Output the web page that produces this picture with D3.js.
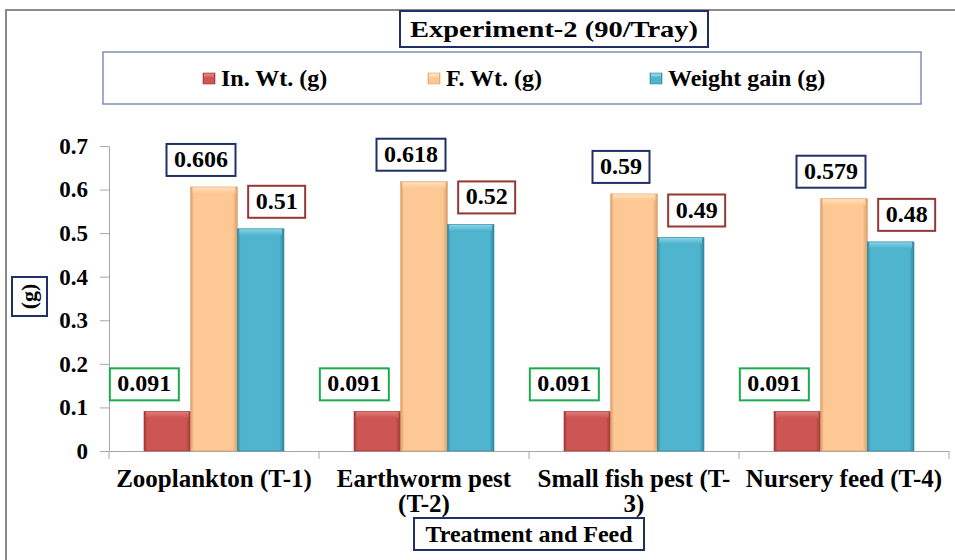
<!DOCTYPE html>
<html>
<head>
<meta charset="utf-8">
<script src="https://cdn.jsdelivr.net/npm/d3@7"></script>
<style>
  html, body { margin: 0; padding: 0; background: #fff; }
  svg { display: block; }
</style>
</head>
<body>
<div id="chart"></div>
<script>
// ---------------- data ----------------
const categories = ["Zooplankton (T-1)", "Earthworm pest (T-2)", "Small fish pest (T-3)", "Nursery feed (T-4)"];
const seriesNames = ["In. Wt. (g)", "F. Wt. (g)", "Weight gain (g)"];
const initialWeight = [0.091, 0.091, 0.091, 0.091];
const finalWeight = [0.606, 0.618, 0.59, 0.579];
const weightGain = [0.51, 0.52, 0.49, 0.48];
const yTickValues = [0, 0.1, 0.2, 0.3, 0.4, 0.5, 0.6, 0.7];
const chartTitle = "Experiment-2 (90/Tray)";
const xTitle = "Treatment and Feed";
const yTitle = "(g)";

// ---------------- styles ----------------
const FONT = '"Liberation Serif"';
const W = 955, H = 560;
const plot = { left: 109, right: 949, top: 146, bottom: 451 };
const seriesValues = [initialWeight, finalWeight, weightGain];
const colors = [
  { main: "#cd5553", light: "#e07b79", dark: "#9e3735" },
  { main: "#fdc893", light: "#ffe0bd", dark: "#d9a06a" },
  { main: "#4fb4ce", light: "#86d3e6", dark: "#2f879f" }
];
const labelBorder = ["#1faa50", "#1f3068", "#953735"];
const labelDx = [-23, -13, 16];

const svg = d3.select("#chart").append("svg").attr("width", W).attr("height", H);
const defs = svg.append("defs");
const styleText = sel => sel.style("font-family", FONT).style("font-weight", "bold").attr("fill", "#000");

colors.forEach((c, i) => {
  const g = defs.append("linearGradient").attr("id", "hg" + i).attr("x1", "0").attr("x2", "1").attr("y1", "0").attr("y2", "0");
  g.append("stop").attr("offset", "0%").attr("stop-color", c.dark);
  g.append("stop").attr("offset", "7%").attr("stop-color", c.main);
  g.append("stop").attr("offset", "50%").attr("stop-color", c.main);
  g.append("stop").attr("offset", "90%").attr("stop-color", c.main);
  g.append("stop").attr("offset", "100%").attr("stop-color", c.dark);
  const v = defs.append("linearGradient").attr("id", "vg" + i).attr("x1", "0").attr("x2", "0").attr("y1", "0").attr("y2", "1");
  v.append("stop").attr("offset", "0%").attr("stop-color", c.light);
  v.append("stop").attr("offset", "100%").attr("stop-color", c.main);
});

// outer frame
svg.append("line").attr("x1", 5).attr("x2", W).attr("y1", 10).attr("y2", 10).attr("stroke", "#8a8a8a").attr("stroke-width", 2);
svg.append("line").attr("x1", 6).attr("x2", 6).attr("y1", 10).attr("y2", H).attr("stroke", "#8a8a8a").attr("stroke-width", 2);

// scales
const y = d3.scaleLinear().domain([0, 0.7]).range([plot.bottom, plot.top]);
const x0 = d3.scaleBand().domain(categories).range([plot.left, plot.right]).padding(0);
const x1 = d3.scaleBand().domain(seriesNames).range([35, 175]).padding(0);

// y axis
const yAxis = svg.append("g").attr("transform", `translate(${plot.left},0)`)
  .call(d3.axisLeft(y).tickValues(yTickValues).tickSize(9).tickSizeOuter(0).tickPadding(12)
    .tickFormat(d => d === 0 ? "0" : d.toFixed(1)));
yAxis.select(".domain").attr("stroke", "#a6a6a6");
yAxis.selectAll(".tick line").attr("stroke", "#a6a6a6");
yAxis.selectAll(".tick text").attr("font-size", 23).call(styleText);

// x axis (ticks at category boundaries)
const xAxis = svg.append("g").attr("transform", `translate(0,${plot.bottom})`)
  .call(d3.axisBottom(x0).tickSize(0).tickSizeOuter(0).tickFormat(""));
xAxis.select(".domain").attr("stroke", "#a6a6a6");
const bounds = categories.map(c => x0(c)).concat([x0(categories[categories.length - 1]) + x0.bandwidth()]);
svg.append("g").selectAll("line").data(bounds).join("line")
  .attr("x1", d => d).attr("x2", d => d).attr("y1", plot.bottom).attr("y2", plot.bottom + 8)
  .attr("stroke", "#a6a6a6");

// bars
const groups = svg.append("g").selectAll("g").data(categories).join("g")
  .attr("transform", d => `translate(${x0(d)},0)`);

const barData = (c, ci) => seriesNames.map((s, si) => ({ s, si, v: seriesValues[si][ci] }));

groups.each(function (c, ci) {
  const g = d3.select(this);
  const data = barData(c, ci);
  g.selectAll("rect.bar").data(data).join("rect").attr("class", "bar")
    .attr("x", d => x1(d.s)).attr("width", x1.bandwidth())
    .attr("y", d => y(d.v)).attr("height", d => y(0) - y(d.v))
    .attr("fill", d => `url(#hg${d.si})`)
    .attr("stroke", d => colors[d.si].dark).attr("stroke-width", 0.6);
  g.selectAll("rect.bevel").data(data).join("rect").attr("class", "bevel")
    .attr("x", d => x1(d.s) + 2).attr("width", x1.bandwidth() - 4)
    .attr("y", d => y(d.v) + 0.5).attr("height", 6)
    .attr("fill", d => `url(#vg${d.si})`);

  // data labels
  const lab = g.selectAll("g.lab").data(data).join("g").attr("class", "lab");
  lab.each(function (d) {
    const lg = d3.select(this);
    const cx = x1(d.s) + x1.bandwidth() / 2 + labelDx[d.si];
    const bottom = y(d.v) - 11;
    const t = lg.append("text").attr("x", cx).attr("y", bottom - 9)
      .attr("text-anchor", "middle").attr("font-size", 24).call(styleText).text(String(d.v));
    const tw = t.node().getComputedTextLength();
    const bw = tw + 15, bh = 32;
    lg.insert("rect", "text").attr("x", cx - bw / 2).attr("y", bottom - bh)
      .attr("width", bw).attr("height", bh).attr("fill", "#fff")
      .attr("stroke", labelBorder[d.si]).attr("stroke-width", 2);
  });
});

// category labels with wrapping
function wrapLabel(text, maxW, fs) {
  const pieces = text.match(/[^\s-]*-|[^\s-]+\s*/g);
  const tmp = svg.append("text").attr("font-size", fs).call(styleText);
  const measure = s => { tmp.text(s); return tmp.node().getComputedTextLength(); };
  const lines = [];
  let cur = "";
  pieces.forEach(p => {
    const cand = cur + p;
    if (cur && measure(cand.trim()) > maxW) { lines.push(cur.trim()); cur = p; }
    else cur = cand;
  });
  if (cur) lines.push(cur.trim());
  tmp.remove();
  return lines;
}
const catFs = 25;
svg.append("g").selectAll("text").data(categories).join("text")
  .attr("text-anchor", "middle").attr("font-size", catFs).call(styleText)
  .attr("x", d => x0(d) + x0.bandwidth() / 2).attr("y", plot.bottom + 36)
  .each(function (d) {
    const lines = wrapLabel(d, x0.bandwidth() - 4, catFs);
    const t = d3.select(this);
    const cx = x0(d) + x0.bandwidth() / 2;
    lines.forEach((ln, i) => t.append("tspan").attr("x", cx).attr("dy", i === 0 ? 0 : 25).text(ln));
  });

// title
const titleG = svg.append("g");
titleG.append("rect").attr("x", 400).attr("y", 11).attr("width", 308).attr("height", 36)
  .attr("fill", "#fff").attr("stroke", "#1f3068").attr("stroke-width", 2);
titleG.append("text").attr("x", 554).attr("y", 37).attr("text-anchor", "middle")
  .attr("font-size", 24).call(styleText).attr("textLength", 288).attr("lengthAdjust", "spacingAndGlyphs").text(chartTitle);

// legend
svg.append("rect").attr("x", 103).attr("y", 52).attr("width", 818).attr("height", 52)
  .attr("fill", "#fff").attr("stroke", "#7d8fb8").attr("stroke-width", 1.5);
const legendX = [203, 428, 650];
const leg = svg.append("g").selectAll("g").data(seriesNames).join("g")
  .attr("transform", (d, i) => `translate(${legendX[i]},73)`);
leg.append("rect").attr("width", 12).attr("height", 11)
  .attr("fill", (d, i) => `url(#hg${i})`).attr("stroke", (d, i) => colors[i].dark).attr("stroke-width", 0.6);
leg.append("rect").attr("x", 1).attr("y", 0.5).attr("width", 10).attr("height", 3)
  .attr("fill", (d, i) => colors[i].light);
leg.append("text").attr("x", 18).attr("y", 13).attr("font-size", 24).call(styleText).text(d => d);

// x title
svg.append("rect").attr("x", 414).attr("y", 518).attr("width", 230).attr("height", 32)
  .attr("fill", "#fff").attr("stroke", "#1f3068").attr("stroke-width", 2);
svg.append("text").attr("x", 529).attr("y", 542).attr("text-anchor", "middle")
  .attr("font-size", 24).call(styleText).text(xTitle);

// y title
svg.append("rect").attr("x", 12).attr("y", 277).attr("width", 35).attr("height", 39)
  .attr("fill", "#fff").attr("stroke", "#1f3068").attr("stroke-width", 2);
svg.append("text").attr("transform", "translate(36,296.5) rotate(-90)").attr("text-anchor", "middle")
  .attr("font-size", 22).call(styleText).text(yTitle);
</script>
</body>
</html>
